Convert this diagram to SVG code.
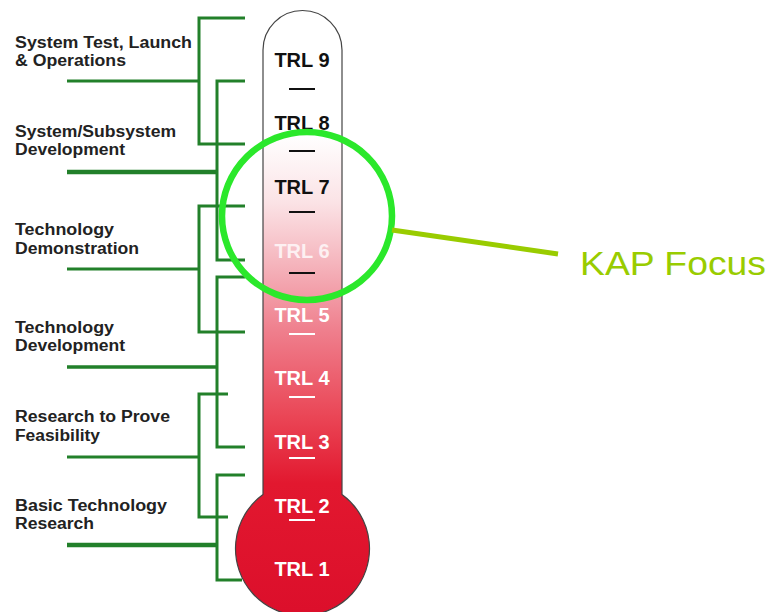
<svg xmlns="http://www.w3.org/2000/svg" width="768" height="612" viewBox="0 0 768 612">
<style>
.lbl{font-family:"Liberation Sans",Arial,sans-serif;font-weight:bold;font-size:16px;fill:#222}
.trl{font-family:"Liberation Sans",Arial,sans-serif;font-weight:bold;font-size:20px;text-anchor:middle}
.dk{fill:#111}.wt{fill:#fff}
.br{fill:none;stroke:#22802a;stroke-width:3}
.thk{stroke-width:4.5}
.dash{stroke-width:2}
</style>
<defs>
<linearGradient id="tube" gradientUnits="userSpaceOnUse" x1="0" y1="0" x2="0" y2="612">
<stop offset="0.22" stop-color="#ffffff"/>
<stop offset="0.33" stop-color="#fbe3e6"/>
<stop offset="0.43" stop-color="#f5b5bd"/>
<stop offset="0.54" stop-color="#ef7f8d"/>
<stop offset="0.68" stop-color="#ea4656"/>
<stop offset="0.79" stop-color="#e2182f"/>
<stop offset="1" stop-color="#dc0f2b"/>
</linearGradient>
</defs>
<rect width="768" height="612" fill="#fff"/>

<g id="connectors">
<path class="br" d="M245,18 H199 V144 H245 M67,81 H199"/>
<path class="br" d="M245,81 H217 V260 H245"/>
<path class="br thk" d="M67,172 H217"/>
<path class="br" d="M245,206 H199 V332 H245 M67,269 H199"/>
<path class="br" d="M245,277 H217 V447 H245"/>
<path class="br" style="stroke-width:3.5" d="M67,367 H217"/>
<path class="br" d="M228,394 H199 V517 H228 M67,457 H199"/>
<path class="br" d="M245,475 H217 V580 H242"/>
<path class="br thk" d="M67,545 H217"/>
</g>

<g id="thermometer">
<path d="M263,494.5 V50 A39.5,39.5 0 0 1 342,50 V494.5 A67,67 0 1 1 263,494.5 Z" fill="url(#tube)" stroke="#444" stroke-width="1.2"/>
</g>

<g id="phase-system-test"><text class="lbl" x="15" y="48" textLength="177" lengthAdjust="spacingAndGlyphs">System Test, Launch</text><text class="lbl" x="15" y="66" textLength="111" lengthAdjust="spacingAndGlyphs">&amp; Operations</text></g>
<g id="phase-system-dev"><text class="lbl" x="15" y="137" textLength="161" lengthAdjust="spacingAndGlyphs">System/Subsystem</text><text class="lbl" x="15" y="155" textLength="110" lengthAdjust="spacingAndGlyphs">Development</text></g>
<g id="phase-tech-demo"><text class="lbl" x="15" y="235" textLength="99" lengthAdjust="spacingAndGlyphs">Technology</text><text class="lbl" x="15" y="254" textLength="124" lengthAdjust="spacingAndGlyphs">Demonstration</text></g>
<g id="phase-tech-dev"><text class="lbl" x="15" y="333" textLength="99" lengthAdjust="spacingAndGlyphs">Technology</text><text class="lbl" x="15" y="351" textLength="110" lengthAdjust="spacingAndGlyphs">Development</text></g>
<g id="phase-research"><text class="lbl" x="15" y="422" textLength="155" lengthAdjust="spacingAndGlyphs">Research to Prove</text><text class="lbl" x="15" y="441" textLength="85" lengthAdjust="spacingAndGlyphs">Feasibility</text></g>
<g id="phase-basic"><text class="lbl" x="15" y="511" textLength="152" lengthAdjust="spacingAndGlyphs">Basic Technology</text><text class="lbl" x="15" y="529" textLength="79" lengthAdjust="spacingAndGlyphs">Research</text></g>

<g id="trl9"><text class="trl dk" x="302" y="67">TRL 9</text><line class="dash" x1="289" y1="89" x2="315" y2="89" stroke="#111"/></g>
<g id="trl8"><text class="trl dk" x="302" y="130">TRL 8</text><line class="dash" x1="289" y1="151" x2="315" y2="151" stroke="#111"/></g>
<g id="trl7"><text class="trl dk" x="302" y="194">TRL 7</text><line class="dash" x1="289" y1="212" x2="315" y2="212" stroke="#111"/></g>
<g id="trl6"><text class="trl" x="302" y="258" fill="#fdf0f2">TRL 6</text><line class="dash" x1="289" y1="273" x2="315" y2="273" stroke="#111"/></g>
<g id="trl5"><text class="trl wt" x="302" y="322">TRL 5</text><line class="dash" x1="289" y1="334" x2="315" y2="334" stroke="#fff"/></g>
<g id="trl4"><text class="trl wt" x="302" y="385">TRL 4</text><line class="dash" x1="289" y1="397" x2="315" y2="397" stroke="#fff"/></g>
<g id="trl3"><text class="trl wt" x="302" y="449">TRL 3</text><line class="dash" x1="289" y1="458" x2="315" y2="458" stroke="#fff"/></g>
<g id="trl2"><text class="trl wt" x="302" y="513">TRL 2</text><line class="dash" x1="289" y1="520" x2="315" y2="520" stroke="#fff"/></g>
<g id="trl1"><text class="trl wt" x="302" y="576">TRL 1</text></g>

<g id="kap-focus">
<ellipse cx="307" cy="216" rx="85" ry="84" fill="none" stroke="#2be82b" stroke-width="6.5"/>
<line x1="392" y1="230" x2="558" y2="254" stroke="#99cc00" stroke-width="5"/>
<text x="580" y="275" font-family="'Liberation Sans',Arial,sans-serif" font-size="33" fill="#99cc00" textLength="186" lengthAdjust="spacingAndGlyphs">KAP Focus</text>
</g>
</svg>
